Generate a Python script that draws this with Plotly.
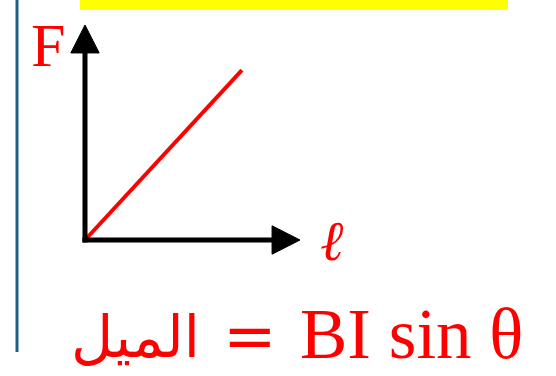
import plotly.graph_objects as go

# data (in axis units; origin at the arrows' corner)
line_l = [0, 7.3]
line_F = [0, 7.9]
axis_max = 10
label_y = "F"
label_x = "ℓ"
formula_ar = "الميل"
formula_eq = "="
formula_en = "BI sin θ"

W, H = 556, 376
px = lambda v: v / W
py = lambda v: 1 - v / H
U = 21.5  # pixels per axis unit

fig = go.Figure()
fig.add_trace(go.Scatter(x=line_l, y=line_F, mode="lines",
                         line=dict(color="#ff0000", width=4), hoverinfo="skip"))

hb = 8.7   # arrowhead base
hw = 0.66  # arrowhead half width
shapes = [
    dict(type="rect", xref="paper", yref="paper", x0=px(80), x1=px(508), y0=py(10), y1=py(0),
         fillcolor="#ffff00", line=dict(width=0), layer="below"),
    dict(type="line", xref="paper", yref="paper", x0=px(17), x1=px(17), y0=py(352), y1=py(0),
         line=dict(color="#1f5f86", width=3)),
    dict(type="line", xref="x", yref="y", x0=0, x1=0, y0=-0.12, y1=hb + 0.1,
         line=dict(color="black", width=5)),
    dict(type="line", xref="x", yref="y", x0=-0.12, x1=hb + 0.1, y0=0, y1=0,
         line=dict(color="black", width=5)),
    dict(type="path", xref="x", yref="y",
         path=f"M {-hw} {hb} L {hw} {hb} L 0 {axis_max} Z",
         fillcolor="black", line=dict(color="black", width=1)),
    dict(type="path", xref="x", yref="y",
         path=f"M {hb} {-hw} L {hb} {hw} L {axis_max} 0 Z",
         fillcolor="black", line=dict(color="black", width=1)),
]

red = "#ff0000"
annotations = [
    dict(text=label_y, xref="paper", yref="paper", x=px(48), y=py(45),
         xanchor="center", yanchor="middle", showarrow=False,
         font=dict(family="Liberation Serif", size=62, color=red)),
    dict(text=f"<i>{label_x}</i>", xref="paper", yref="paper", x=px(332), y=py(240),
         xanchor="center", yanchor="middle", showarrow=False,
         font=dict(family="DejaVu Serif", size=56, color=red)),
    dict(text=formula_ar, xref="paper", yref="paper", x=px(135), y=py(337),
         xanchor="center", yanchor="middle", showarrow=False,
         font=dict(family="DejaVu Sans", size=58, color=red)),
    dict(text=formula_eq, xref="paper", yref="paper", x=px(250), y=py(336),
         xanchor="center", yanchor="middle", showarrow=False,
         font=dict(family="DejaVu Sans", size=64, color=red)),
    dict(text=formula_en, xref="paper", yref="paper", x=px(412), y=py(334),
         xanchor="center", yanchor="middle", showarrow=False,
         font=dict(family="Liberation Serif", size=71, color=red)),
]

fig.update_layout(
    width=W, height=H, margin=dict(l=0, r=0, t=0, b=0),
    paper_bgcolor="white", plot_bgcolor="white", showlegend=False,
    xaxis=dict(domain=[px(85 - U), px(300 + U)], range=[-1, axis_max + 1],
               visible=False, fixedrange=True),
    yaxis=dict(domain=[py(240 + U), py(25 - U)], range=[-1, axis_max + 1],
               visible=False, fixedrange=True),
    shapes=shapes, annotations=annotations,
)
fig.write_html("out.html", config={"displayModeBar": False},
               post_script="document.body.style.margin='0';")
